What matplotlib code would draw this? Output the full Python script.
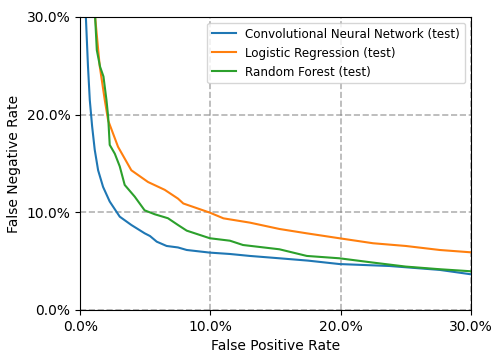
import numpy as np
import matplotlib.pyplot as plt
from matplotlib.ticker import PercentFormatter

# curve points (false positive rate, false negative rate)
cnn_fpr = [0.0044, 0.0060, 0.0074, 0.0092, 0.0112, 0.0138, 0.0176, 0.0227, 0.0304,
           0.0393, 0.0495, 0.0536, 0.0588, 0.0664, 0.0751, 0.0818, 0.0996, 0.115,
           0.1303, 0.153, 0.175, 0.199, 0.2375, 0.276, 0.300]
cnn_fnr = [0.300, 0.250, 0.215, 0.188, 0.164, 0.143, 0.126, 0.111, 0.0955,
           0.087, 0.0785, 0.0757, 0.0699, 0.0655, 0.0640, 0.0614, 0.0587, 0.0573,
           0.0553, 0.0529, 0.0505, 0.047, 0.045, 0.041, 0.0365]

lr_fpr = [0.0115, 0.0150, 0.0189, 0.0215, 0.0291, 0.0393, 0.0521, 0.0649, 0.0751,
          0.0792, 0.0996, 0.110, 0.1303, 0.153, 0.1737, 0.199, 0.2248, 0.250,
          0.276, 0.300]
lr_fnr = [0.300, 0.250, 0.215, 0.194, 0.167, 0.143, 0.131, 0.123, 0.114,
          0.109, 0.0996, 0.0938, 0.0894, 0.0829, 0.0785, 0.0734, 0.0683, 0.0655,
          0.0614, 0.0590]

rf_fpr = [0.0115, 0.0128, 0.0153, 0.0179, 0.0202, 0.0215, 0.0227, 0.0266, 0.0304,
          0.0342, 0.0419, 0.0495, 0.0572, 0.0674, 0.0751, 0.0818, 0.0996, 0.115,
          0.125, 0.153, 0.174, 0.199, 0.2248, 0.250, 0.276, 0.300]
rf_fnr = [0.300, 0.266, 0.249, 0.239, 0.215, 0.198, 0.169, 0.160, 0.147,
          0.128, 0.116, 0.102, 0.098, 0.0939, 0.087, 0.0812, 0.0734, 0.0709,
          0.0665, 0.0621, 0.0553, 0.0529, 0.0485, 0.0444, 0.0417, 0.0396]

labels = ['Convolutional Neural Network (test)', 'Logistic Regression (test)',
          'Random Forest (test)']


fig, ax = plt.subplots(figsize=(5.04, 3.6), dpi=100)
fig.subplots_adjust(left=0.159, right=0.9345, top=0.953, bottom=0.139)

ax.plot(cnn_fpr, cnn_fnr, color='tab:blue', label=labels[0])
ax.plot(lr_fpr, lr_fnr, color='tab:orange', label=labels[1])
ax.plot(rf_fpr, rf_fnr, color='tab:green', label=labels[2])

ax.set_xlim(0, 0.3)
ax.set_ylim(0, 0.3)
ax.set_xticks([0, 0.1, 0.2, 0.3])
ax.set_yticks([0, 0.1, 0.2, 0.3])
ax.xaxis.set_major_formatter(PercentFormatter(1.0, decimals=1))
ax.yaxis.set_major_formatter(PercentFormatter(1.0, decimals=1))
ax.grid(True, linestyle='--', color='gray', alpha=0.6, linewidth=1.2)
ax.set_xlabel('False Positive Rate')
ax.set_ylabel('False Negative Rate')
ax.legend(loc='upper right', fontsize=8.6)

fig.savefig('out.png')
